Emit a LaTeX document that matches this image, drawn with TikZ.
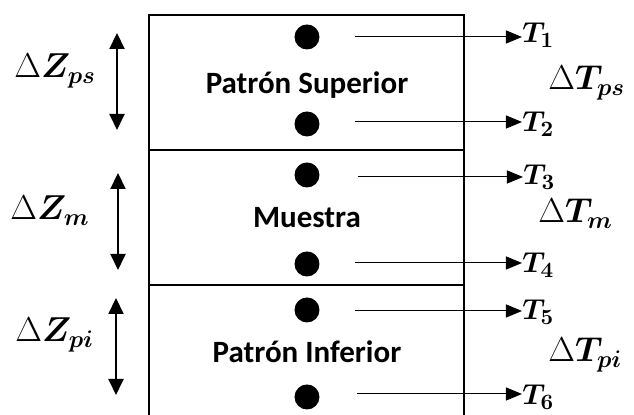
\documentclass[tikz,border=0pt]{standalone}
\usepackage{amsmath, amssymb}
\usepackage{fontspec}
\newfontfamily\boxfont{Carlito}
\usetikzlibrary{positioning, arrows.meta}
\DeclareMathSizes{14}{14}{10.5}{8}
\DeclareMathSizes{17}{17}{13}{10}

\begin{document}
\begin{tikzpicture}[x=0.5pt, y=-0.5pt]
                % Styles for the probes, the labels and the arrows
                \tikzset{sensor/.style={circle, fill=black, inner sep=0pt, minimum size=12.5pt}}
                \tikzset{tlabel/.style={inner sep=0pt, anchor=base west, font=\fontsize{14}{16}\selectfont}}
                \tikzset{dlabel/.style={inner sep=0pt, anchor=base west, font=\fontsize{17}{19}\selectfont}}
                \tikzset{layer/.style={inner sep=0pt, anchor=base, font=\boxfont\bfseries\fontsize{15.5}{18}\selectfont}}
                \tikzset{probe/.style={line width=0.5pt, -{Triangle[length=8pt, width=6.5pt]}}}
                \tikzset{height/.style={line width=1pt, {Triangle[length=8pt, width=7.5pt]}-{Triangle[length=8pt, width=7.5pt]}}}
                \useasboundingbox (0,0) rectangle (634,415);

                % Draw the column of layers, open at the bottom
                \draw[line width=1pt] (149,415) -- (149,15) -- (464,15) -- (464,415);
                \draw[line width=1pt] (149,150) -- (464,150);
                \draw[line width=1pt] (149,285) -- (464,285);

                % Layer names
                \node[layer] (sup) at (307,94) {Patrón Superior};
                \node[layer] (mue) at (307,228) {Muestra};
                \node[layer] (inf) at (307,363) {Patrón Inferior};

                % Thermocouples
                \node[sensor] (d1) at (307,37) {};
                \node[sensor] (d2) at (307,124) {};
                \node[sensor] (d3) at (307,175) {};
                \node[sensor] (d4) at (307,264) {};
                \node[sensor] (d5) at (307,310) {};
                \node[sensor] (d6) at (307,397) {};

                % Temperature readings
                \node[tlabel] (t1) at (522,43) {$\boldsymbol{T_1}$};
                \node[tlabel] (t2) at (522,132) {$\boldsymbol{T_2}$};
                \node[tlabel] (t3) at (523,185) {$\boldsymbol{T_3}$};
                \node[tlabel] (t4) at (522,273) {$\boldsymbol{T_4}$};
                \node[tlabel] (t5) at (522,320) {$\boldsymbol{T_5}$};
                \node[tlabel] (t6) at (522,405) {$\boldsymbol{T_6}$};

                % Lead wires out of the column
                \coordinate (s1) at (355,37);
                \coordinate (s2) at (355,122);
                \coordinate (s3) at (358,177);
                \coordinate (s4) at (355,263);
                \coordinate (s5) at (355,311);
                \coordinate (s6) at (357,394);
                \foreach \i in {1,...,6}
                    \draw[probe] (s\i) -- (s\i -| t\i.west);

                % Temperature differences
                \node[dlabel] (dtps) at (548,90) {$\Delta\boldsymbol{T_{ps}}$};
                \node[dlabel] (dtm) at (538,223) {$\Delta\boldsymbol{T_{m}}$};
                \node[dlabel] (dtpi) at (548,362) {$\Delta\boldsymbol{T_{pi}}$};

                % Layer thicknesses
                \node[dlabel] (dzps) at (14,78) {$\Delta\boldsymbol{Z_{ps}}$};
                \node[dlabel] (dzm) at (10,220) {$\Delta\boldsymbol{Z_{m}}$};
                \node[dlabel] (dzpi) at (15,342) {$\Delta\boldsymbol{Z_{pi}}$};
                \coordinate (za1) at (117,33);
                \coordinate (zb1) at (117,130);
                \coordinate (za2) at (118,173);
                \coordinate (zb2) at (118,270);
                \coordinate (za3) at (116,298);
                \coordinate (zb3) at (116,395);
                \foreach \i in {1,2,3}
                    \draw[height] (za\i) -- (zb\i);
            \end{tikzpicture}
\end{document}
